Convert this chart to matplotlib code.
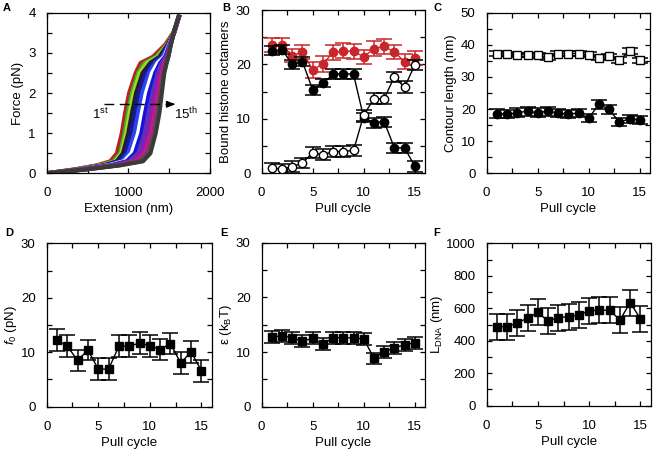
import numpy as np
import matplotlib
matplotlib.use("Agg")
import matplotlib.pyplot as plt
from matplotlib.ticker import MultipleLocator

plt.rcParams['font.family'] = ['Liberation Sans', 'DejaVu Sans']
plt.rcParams['mathtext.fontset'] = 'custom'
plt.rcParams['mathtext.rm'] = 'Liberation Sans'
plt.rcParams['mathtext.it'] = 'Liberation Sans:italic'
plt.rcParams['axes.linewidth'] = 0.9

# ---- panel A: force-extension traces, 1st .. 15th pull ----
force_levels = [0, 0.1, 0.2, 0.3, 0.5, 1.0, 1.5, 2.0, 2.5, 2.75, 2.9, 3.2, 3.5, 3.9]
ext_traces = [
    [0, 350, 620, 780, 860, 920, 960, 1010, 1090, 1150, 1300, 1450, 1550, 1620],
    [0, 360, 640, 800, 880, 935, 975, 1025, 1100, 1170, 1320, 1460, 1555, 1620],
    [0, 380, 660, 820, 900, 955, 995, 1045, 1120, 1200, 1340, 1470, 1560, 1620],
    [0, 390, 680, 840, 915, 975, 1015, 1065, 1140, 1230, 1360, 1475, 1560, 1620],
    [0, 400, 700, 860, 935, 1000, 1045, 1095, 1175, 1270, 1380, 1480, 1560, 1620],
    [0, 410, 720, 890, 965, 1035, 1080, 1130, 1210, 1300, 1400, 1490, 1560, 1620],
    [0, 420, 740, 920, 1000, 1075, 1120, 1170, 1250, 1330, 1420, 1495, 1560, 1620],
    [0, 430, 760, 950, 1040, 1120, 1165, 1215, 1290, 1360, 1440, 1500, 1560, 1620],
    [0, 440, 780, 980, 1080, 1160, 1205, 1255, 1330, 1390, 1450, 1505, 1560, 1620],
    [0, 450, 800, 1010, 1120, 1200, 1245, 1295, 1360, 1410, 1460, 1510, 1560, 1620],
    [0, 460, 820, 1050, 1160, 1240, 1285, 1330, 1385, 1430, 1470, 1512, 1558, 1618],
    [0, 470, 850, 1090, 1200, 1280, 1325, 1365, 1410, 1445, 1480, 1515, 1557, 1617],
    [0, 480, 870, 1120, 1230, 1305, 1350, 1385, 1425, 1455, 1485, 1518, 1556, 1616],
    [0, 490, 890, 1150, 1250, 1320, 1365, 1400, 1435, 1465, 1488, 1519, 1555, 1615],
    [0, 500, 900, 1180, 1270, 1335, 1380, 1410, 1440, 1470, 1490, 1520, 1555, 1615],
]
trace_colors = ['#d01818', '#a82a20', '#2fb52f', '#a8d818', '#1c1c40', '#1a1a88',
                '#2a44f0', '#ffffff', '#1212d8', '#5a30c0', '#8a1fa8', '#cc1599',
                '#a02868', '#555555', '#3a3a3a']

# ---- panels B-F: per pull cycle ----
cycles = list(range(1, 16))

octamers_total = [23.5, 23.5, 21.6, 22.3, 19.0, 20.1, 22.2, 22.5, 22.4, 21.4, 22.9, 23.3, 22.3, 20.5, 21.2]
octamers_total_err = [1.3, 1.3, 1.2, 1.3, 1.4, 1.4, 1.4, 1.4, 1.4, 1.3, 1.4, 1.3, 1.3, 1.4, 1.3]
octamers_full = [22.5, 22.7, 20.0, 20.5, 15.3, 16.6, 18.2, 18.3, 18.2, 10.2, 9.3, 9.5, 4.7, 4.7, 1.3]
octamers_full_err = [0.8, 0.8, 0.8, 0.8, 0.9, 0.8, 0.9, 0.9, 0.9, 0.8, 0.9, 0.9, 0.9, 0.9, 1.0]
octamers_sub = [0.9, 0.8, 1.2, 1.9, 3.8, 3.4, 4.0, 4.0, 4.2, 10.7, 13.7, 13.7, 17.7, 15.8, 19.9]
octamers_sub_err = [1.0, 1.0, 1.0, 1.0, 1.0, 1.0, 1.0, 1.0, 1.0, 1.0, 1.0, 1.0, 1.0, 1.1, 1.0]

contour_outer = [37.3, 37.1, 36.9, 36.9, 36.8, 36.2, 37.3, 37.3, 37.3, 36.9, 36.0, 36.4, 35.3, 38.0, 35.2]
contour_outer_err = [0.8, 0.7, 0.7, 0.7, 0.8, 0.8, 0.7, 0.7, 0.7, 0.8, 0.8, 0.8, 0.8, 0.9, 0.8]
contour_inner = [18.6, 18.4, 18.8, 19.4, 18.8, 19.4, 18.7, 18.5, 18.7, 17.2, 21.5, 19.9, 15.9, 17.0, 16.6]
contour_inner_err = [1.3, 1.3, 1.4, 1.4, 1.4, 1.4, 1.3, 1.3, 1.3, 1.3, 1.4, 1.3, 1.3, 1.2, 1.3]

f0_vals = [12.2, 11.1, 8.5, 10.4, 6.9, 6.9, 11.1, 11.1, 11.7, 11.2, 10.5, 11.6, 8.0, 10.1, 6.6]
f0_err = [2.0, 2.0, 1.9, 1.9, 2.0, 2.0, 2.0, 2.0, 2.0, 2.0, 1.9, 2.0, 2.0, 2.0, 2.0]

eps_vals = [12.7, 13.0, 12.6, 12.0, 12.5, 11.4, 12.6, 12.6, 12.6, 12.4, 8.9, 10.0, 10.8, 11.3, 11.7]
eps_err = [1.1, 1.1, 1.1, 1.1, 1.1, 1.1, 1.1, 1.1, 1.1, 1.1, 1.0, 1.1, 1.1, 1.1, 1.1]

ldna_vals = [487, 487, 510, 540, 575, 520, 543, 548, 558, 585, 588, 588, 528, 635, 535]
ldna_err = [80, 80, 78, 80, 80, 80, 80, 80, 80, 80, 80, 80, 80, 80, 80]

RED = '#c8262a'
FS = 9.5


def style(ax, xmaj, xmin, ymaj, ymin):
    ax.xaxis.set_major_locator(MultipleLocator(xmaj))
    ax.xaxis.set_minor_locator(MultipleLocator(xmin))
    ax.yaxis.set_major_locator(MultipleLocator(ymaj))
    ax.yaxis.set_minor_locator(MultipleLocator(ymin))
    ax.tick_params(which='both', direction='in', top=True, right=True,
                   length=3.8, width=0.9, labelsize=FS)
    ax.tick_params(axis='x', which='both', pad=10)
    ax.tick_params(axis='y', which='both', pad=8)


def ebar(ax, y, e, marker='s', color='k', mfc='k', ms=5, cap=5.5, z=3):
    ax.errorbar(cycles, y, yerr=e, fmt='-' + marker, color=color, mfc=mfc, mec=color,
                ms=ms, lw=1.0, elinewidth=1.1, capsize=cap, capthick=1.1, zorder=z)


fig = plt.figure(figsize=(6.56, 4.53), dpi=100)

axA = fig.add_axes([0.0712, 0.6174, 0.2489, 0.3545])
axB = fig.add_axes([0.3989, 0.6174, 0.2489, 0.3605])
axC = fig.add_axes([0.7419, 0.6174, 0.2489, 0.3545])
axD = fig.add_axes([0.0712, 0.1022, 0.2515, 0.3607])
axE = fig.add_axes([0.3989, 0.1022, 0.2489, 0.3620])
axF = fig.add_axes([0.7419, 0.1044, 0.2500, 0.3585])

# A
for ext, col in zip(ext_traces, trace_colors):
    axA.plot(ext, force_levels, color=col, lw=3.0, solid_joinstyle='round')
axA.set_xlim(0, 2000)
axA.set_ylim(0, 4)
style(axA, 1000, 500, 1, 0.5)
axA.set_xlabel('Extension (nm)', fontsize=FS, labelpad=3)
axA.set_ylabel('Force (pN)', fontsize=FS, labelpad=3)
axA.plot([700, 1540], [1.72, 1.72], color='k', lw=1.0, dashes=(7, 4))
axA.annotate('', xy=(1610, 1.72), xytext=(1500, 1.72),
             arrowprops=dict(arrowstyle='-|>,head_length=0.5,head_width=0.2', color='k', lw=1.0))
axA.text(660, 1.47, r'1$^{\rm st}$', fontsize=FS, ha='center', va='center')
axA.text(1700, 1.47, r'15$^{\rm th}$', fontsize=FS, ha='center', va='center')

# B
ebar(axB, octamers_total, octamers_total_err, marker='o', color=RED, mfc=RED, ms=6, z=3)
ebar(axB, octamers_full, octamers_full_err, marker='o', ms=6, z=4)
ebar(axB, octamers_sub, octamers_sub_err, marker='o', mfc='white', ms=6, z=5)
axB.set_xlim(0, 16)
axB.set_ylim(0, 30)
style(axB, 5, 2.5, 10, 5)
axB.set_xlabel('Pull cycle', fontsize=FS, labelpad=3)
axB.set_ylabel('Bound histone octamers', fontsize=FS, labelpad=3)

# C
ebar(axC, contour_outer, contour_outer_err, marker='s', mfc='white', ms=5.5)
ebar(axC, contour_inner, contour_inner_err, marker='o', ms=6)
axC.set_xlim(0, 16)
axC.set_ylim(0, 50)
style(axC, 5, 2.5, 10, 5)
axC.set_xlabel('Pull cycle', fontsize=FS, labelpad=3)
axC.set_ylabel('Contour length (nm)', fontsize=FS, labelpad=3)

# D
ebar(axD, f0_vals, f0_err, ms=5.5, cap=6)
axD.set_xlim(0, 16)
axD.set_ylim(0, 30)
style(axD, 5, 2.5, 10, 5)
axD.set_xlabel('Pull cycle', fontsize=FS, labelpad=3)
axD.set_ylabel(r'$f_{\rm 0}$ (pN)', fontsize=FS, labelpad=1.5)

# E
ebar(axE, eps_vals, eps_err, ms=5.5, cap=6)
axE.set_xlim(0, 16)
axE.set_ylim(0, 30)
style(axE, 5, 2.5, 10, 5)
axE.set_xlabel('Pull cycle', fontsize=FS, labelpad=3)
axE.set_ylabel(r'ε (k$_{\rm B}$T)', fontsize=FS, labelpad=1.5)

# F
ebar(axF, ldna_vals, ldna_err, ms=5.5, cap=6)
axF.set_xlim(0, 16)
axF.set_ylim(0, 1000)
style(axF, 5, 2.5, 200, 100)
axF.set_xlabel('Pull cycle', fontsize=FS, labelpad=3)
axF.set_ylabel(r'L$_{\rm DNA}$ (nm)', fontsize=FS, labelpad=0.5)

for lab, (px, py) in zip('ABCDEF', [(3, 3), (222, 3), (433, 3), (5, 228), (220, 228), (433, 228)]):
    fig.text(px / 656, 1 - py / 453, lab, fontsize=8, fontweight='bold', ha='left', va='top')

fig.savefig('out.png', dpi=100)
